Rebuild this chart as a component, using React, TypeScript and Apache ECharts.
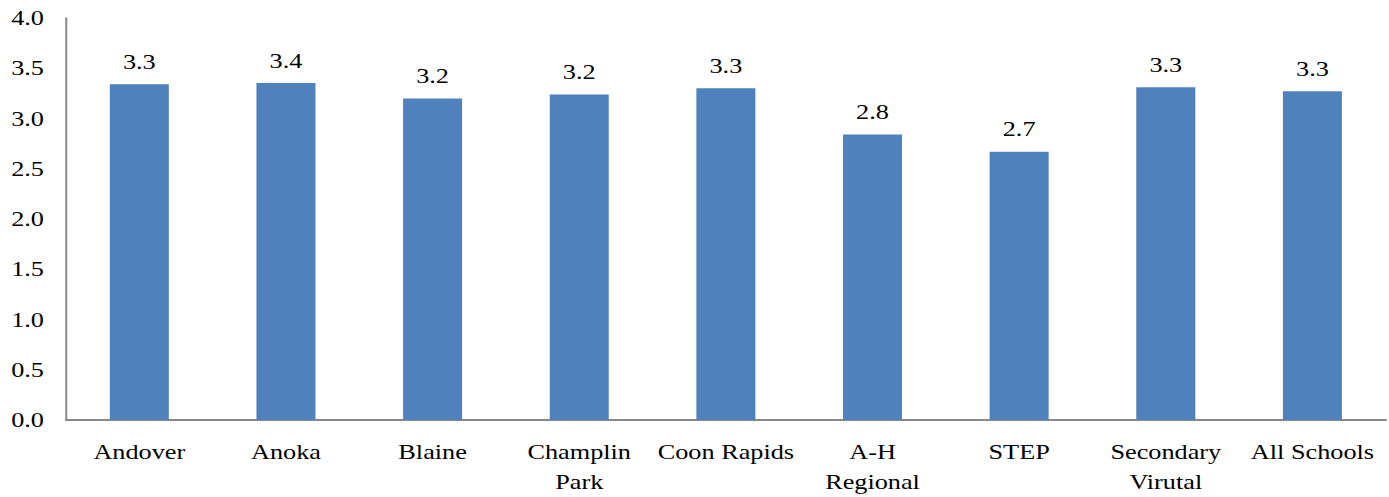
import React, { useEffect, useRef } from "react";
import * as echarts from "echarts";

const categories = [
  "Andover",
  "Anoka",
  "Blaine",
  "Champlin\nPark",
  "Coon Rapids",
  "A-H\nRegional",
  "STEP",
  "Secondary\nVirutal",
  "All Schools",
];
const values = [3.34, 3.352, 3.2, 3.24, 3.3, 2.84, 2.67, 3.31, 3.27];
const yMin = 0;
const yMax = 4;
const yInterval = 0.5;

const FONT = "Liberation Serif";
const SX = 1.25; // the reference is stretched horizontally
const W = 1389;
const H = 497;

export default function App() {
  const ref = useRef<HTMLDivElement>(null);
  useEffect(() => {
    if (!ref.current) return;
    const chart = echarts.init(ref.current, null, { renderer: "svg" });
    chart.setOption({
      animation: false,
      textStyle: { fontFamily: FONT },
      grid: { left: 66 / SX, right: 3 / SX, top: 18, bottom: 76, containLabel: false },
      xAxis: {
        type: "category",
        data: categories,
        axisLine: { lineStyle: { color: "#898989", width: 2 } },
        axisTick: { show: false },
        axisLabel: {
          color: "#000",
          fontFamily: FONT,
          fontSize: 21,
          lineHeight: 30,
          margin: 17,
          interval: 0,
        },
      },
      yAxis: {
        type: "value",
        min: yMin,
        max: yMax,
        interval: yInterval,
        axisLine: { show: true, lineStyle: { color: "#898989", width: 1.6 } },
        axisTick: { show: false },
        splitLine: { show: false },
        axisLabel: {
          color: "#000",
          fontFamily: FONT,
          fontSize: 21,
          margin: 22 / SX,
          formatter: (v: number) => v.toFixed(1),
        },
      },
      series: [
        {
          type: "bar",
          data: values,
          barWidth: 59 / SX,
          itemStyle: { color: "#4F81BD" },
          label: {
            show: true,
            position: "top",
            distance: 12,
            color: "#000",
            fontFamily: FONT,
            fontSize: 21,
            formatter: (p: any) => Number(p.value).toFixed(1),
          },
        },
      ],
    });
    return () => chart.dispose();
  }, []);
  return (
    <div
      ref={ref}
      style={{
        position: "absolute",
        left: 0,
        top: 0,
        width: W / SX,
        height: H,
        transform: `scaleX(${SX})`,
        transformOrigin: "0 0",
      }}
    />
  );
}
